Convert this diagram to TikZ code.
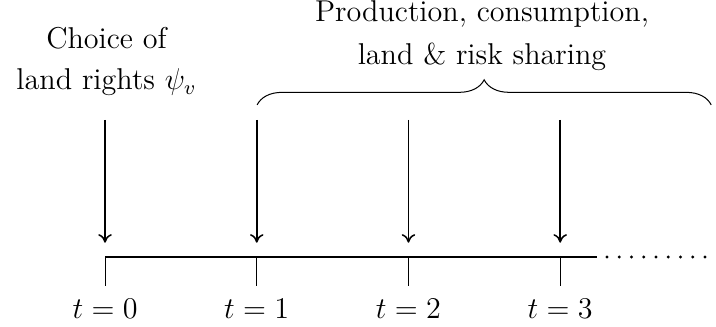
\documentclass[tikz,border=0pt]{standalone}
\usepackage{amsmath,amssymb}
\usetikzlibrary{arrows.meta,positioning,calc,decorations.pathreplacing}

\begin{document}
\begin{tikzpicture}[>={To[length=3.4pt,width=5.4pt]},
  lbl/.style={align=center,font=\large},
  axisline/.style={semithick},
  dot/.style={circle,fill,inner sep=0,minimum size=1.3pt}]
\useasboundingbox (-1.471,-0.980) rectangle (8.557,3.599);
% time axis with ticks and dates
\foreach \i in {0,1,2,3} {
  \coordinate (p\i) at (2.125*\i,0);
  \coordinate (q\i) at (2.125*\i,-0.41);
  \coordinate (a\i) at (2.125*\i,1.92);
  \coordinate (h\i) at (2.125*\i,0.2);
  \node[lbl] (t\i) at (2.125*\i,-0.73) {$t=\i$};
  \draw (p\i) -- (q\i);
  \draw[->,semithick] (a\i) -- (h\i);
}
\coordinate (e) at (6.89,0);
\draw[axisline] (p0) -- (e);
\foreach \k in {0,...,8} \node[dot] (d\k) at (7.03+0.1716*\k,0) {};
% what happens when
\node[lbl] (choice) at (0.02,2.74) {Choice of\\[2.5pt]land rights $\psi_v$};
\coordinate (bl) at (2.13,2.13);
\coordinate (br) at (8.49,2.13);
\draw[decorate,decoration={brace,amplitude=10pt}] (bl) -- (br);
\node[lbl] (prod) at (5.28,3.10) {Production, consumption,\\[3.5pt]land \& risk sharing};
\end{tikzpicture}
\end{document}
